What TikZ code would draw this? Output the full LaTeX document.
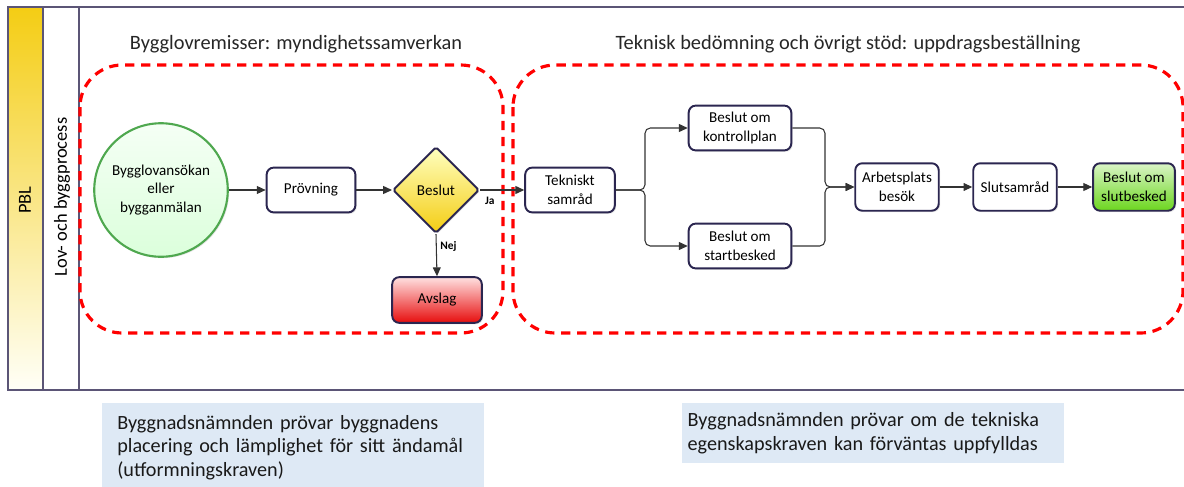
\documentclass[tikz,border=0pt]{standalone}
\usepackage{fontspec}
\setmainfont{Carlito}
\usetikzlibrary{shapes.geometric,arrows.meta,shadows}
\definecolor{ram}{HTML}{5B5576}
\definecolor{kant}{HTML}{2B2650}
\definecolor{guld}{HTML}{F4CD14}
\definecolor{ljusbla}{HTML}{DEE9F5}
\definecolor{gron}{HTML}{4FA84F}
\definecolor{lime}{HTML}{6CD61F}
\definecolor{linje}{HTML}{333333}

\begin{document}
\begin{tikzpicture}[x=0.02cm, y=-0.02cm,
  box/.style = {draw=kant, line width=1.1pt, rounded corners=4pt, fill=white, align=center, inner sep=1pt,
    font=\fontsize{8.6}{10.6}\selectfont, drop shadow={opacity=0.2, shadow xshift=0.8pt, shadow yshift=-0.8pt}},
  grupp/.style = {draw=red, line width=1.8pt, dash pattern=on 5.3pt off 3.8pt, rounded corners=24pt},
  pil/.style = {draw=linje, line width=0.6pt, -{Triangle[length=5pt,width=4.5pt]}},
  etikett/.style = {font=\fontsize{6.5}{7}\selectfont\bfseries, inner sep=2pt},
  rubrik/.style = {font=\fontsize{11.6}{13}\selectfont, text=black!85},
  info/.style = {fill=ljusbla, anchor=north west, align=left, font=\fontsize{11.5}{13.4}\selectfont, text=black!90}]
\useasboundingbox (0,0) rectangle (1184,487);

% bana
\shade[top color=guld, bottom color=yellow!3] (8,7) rectangle (43,390);
\draw[ram, line width=0.8pt] (1184,7) -- (8,7) -- (8,390) -- (1184,390);
\draw[ram, line width=0.8pt] (43,7) -- (43,390);
\draw[ram, line width=0.8pt] (79,7) -- (79,390);
\node[rotate=90, font=\fontsize{10.5}{12}\selectfont] (pbl) at (25,200) {PBL};
\node[rotate=90, font=\fontsize{10.5}{12}\selectfont] (lov) at (62,197) {Lov- och byggprocess};

% grupper
\draw[grupp] (80,65) rectangle (503,333);
\draw[grupp] (513,65) rectangle (1183,333);
\node[rubrik] (titel1) at (296,44) {Bygglovremisser: myndighetssamverkan};
\node[rubrik] (titel2) at (848,44) {Teknisk bedömning och övrigt stöd: uppdragsbeställning};

% noder
\node[box, circle, rounded corners=0pt, draw=gron, line width=1.2pt, top color=green!4, bottom color=green!14!white, minimum size=76pt] (ansokan) at (161,190) {Bygglovansökan\\eller\\bygganmälan};
\node[box, minimum width=50.5pt, minimum height=25.5pt] (provning) at (311,190) {Prövning};
\node[box, diamond, rounded corners=1pt, top color=yellow!25, bottom color=guld, minimum width=49pt, minimum height=49pt, inner sep=0pt] (beslut) at (436,190) {Beslut};
\node[box, minimum width=51pt, minimum height=26pt, top color=red!12, bottom color=red!90!black!95] (avslag) at (437,300) {Avslag};
\node[box, minimum width=51pt, minimum height=25.5pt] (samrad) at (570,190) {Tekniskt\\samråd};
\node[box, minimum width=58.4pt, minimum height=25.5pt] (kontroll) at (740,128) {Beslut om\\kontrollplan};
\node[box, minimum width=58.4pt, minimum height=25.5pt] (start) at (740,246) {Beslut om\\startbesked};
\node[box, minimum width=47.5pt, minimum height=27pt] (arbplats) at (897,187) {Arbetsplats\\besök};
\node[box, minimum width=47.5pt, minimum height=27pt] (slutsamrad) at (1015,187) {Slutsamråd};
\node[box, minimum width=46.5pt, minimum height=27pt, top color=lime!25!white, bottom color=lime] (slutbesked) at (1134,187) {Beslut om\\slutbesked};

\coordinate (delning) at (645,190);
\coordinate (samling) at (825,187);

% pilar
\draw[pil] (ansokan.east) -- (provning.west);
\draw[pil] (provning.east) -- (beslut.west);
\draw[pil] (beslut.south) -- node[etikett, right, pos=0.3] {Nej} (avslag.north);
\draw[pil] (beslut.east) -- node[etikett, below=2pt, pos=0.22] {Ja} (samrad.west);
\draw[pil, rounded corners=3pt] (samrad.east) -- (delning) |- (kontroll.west);
\draw[pil, rounded corners=3pt] (samrad.east) -- (delning) |- (start.west);
\draw[pil, rounded corners=3pt] (kontroll.east) -| (samling) -- (arbplats.west);
\draw[pil, rounded corners=3pt] (start.east) -| (samling) -- (arbplats.west);
\draw[pil] (arbplats) -- (slutsamrad);
\draw[pil] (slutsamrad) -- (slutbesked);

% förklaringar
\node[info, inner xsep=8.5pt, inner ysep=3pt, text width=200pt, minimum height=50pt] (text1) at (102,403)
  {Byggnadsnämnden prövar byggnadens\\placering och lämplighet för sitt ändamål\\(utformningskraven)};
\node[info, inner xsep=3pt, inner ysep=3pt, text width=211pt, minimum height=34pt] (text2) at (682,403)
  {Byggnadsnämnden prövar om de tekniska\\egenskapskraven kan förväntas uppfylldas};
\end{tikzpicture}
\end{document}
